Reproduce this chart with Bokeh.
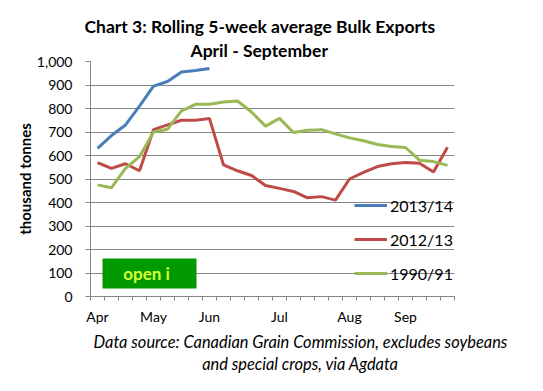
import math
from bokeh.plotting import figure
from bokeh.models import (Range1d, FixedTicker, Label, BoxAnnotation, Legend, LegendItem,
                          Title, LinearAxis)
from bokeh.embed import file_html
from bokeh.resources import INLINE

weeks = list(range(26))
month_ticks = [0, 4, 8, 13, 18, 22]
month_labels = ["Apr", "May", "Jun", "Jul", "Aug", "Sep"]
y_ticks = [0, 100, 200, 300, 400, 500, 600, 700, 800, 900, 1000]

s2013 = [630, 685, 730, 810, 895, 915, 955, 962, 970]
s2012 = [570, 545, 565, 535, 710, 730, 750, 750, 757, 560, 535, 515, 472,
         460, 447, 420, 425, 410, 500, 528, 553, 565, 570, 567, 530, 635]
s1990 = [475, 463, 545, 595, 700, 712, 790, 818, 818, 828, 832, 785, 725,
         758, 698, 707, 710, 692, 675, 663, 647, 638, 634, 580, 574, 558]

footnote = "Data source: Canadian Grain Commission, excludes soybeans\nand special crops, via Agdata"
FOOT_X = 14.5  # horizontal centre of the footnote, in week units

FONT = "Lato"
W, H = 527, 384
L, R, T, B = 90, 73, 61, 88

p = figure(width=W, height=H, output_backend="svg", toolbar_location=None,
           x_range=Range1d(-0.5, 25.5), y_range=Range1d(0, 1000),
           min_border_left=L, min_border_right=R, min_border_top=T, min_border_bottom=B)
p.outline_line_color = None
p.background_fill_color = "white"
p.border_fill_color = "white"

# axes
xa = p.xaxis[0]
xa.ticker = FixedTicker(ticks=month_ticks, minor_ticks=[w - 0.5 for w in range(27)])
xa.major_label_overrides = {t: l for t, l in zip(month_ticks, month_labels)}
xa.major_tick_line_color = None
xa.minor_tick_out = 4
xa.minor_tick_in = 0
xa.minor_tick_line_color = "#868686"
xa.axis_line_color = "#868686"
xa.major_label_text_font = FONT
xa.major_label_text_font_size = "14px"
xa.major_label_text_color = "black"
xa.major_label_standoff = 5

ya = p.yaxis[0]
ya.ticker = FixedTicker(ticks=y_ticks, minor_ticks=[])
ya.major_label_overrides = {v: f"{v:,}" for v in y_ticks}
ya.major_tick_out = 5
ya.major_tick_in = 0
ya.major_tick_line_color = "#868686"
ya.axis_line_color = "#868686"
ya.minor_tick_line_color = None
ya.major_label_text_font = FONT
ya.major_label_text_font_size = "14px"
ya.major_label_text_color = "black"
ya.major_label_standoff = 13
ya.axis_label = "thousand tonnes"
ya.axis_label_text_font = FONT
ya.axis_label_text_font_style = "bold"
ya.axis_label_text_font_size = "15px"
ya.axis_label_text_color = "black"
ya.axis_label_standoff = 0

# footnote as an extra unlined axis below the month axis
fa = LinearAxis(ticker=FixedTicker(ticks=[FOOT_X], minor_ticks=[]),
                major_label_overrides={FOOT_X: footnote},
                axis_line_color=None, major_tick_line_color=None,
                minor_tick_line_color=None, major_tick_out=0, major_tick_in=0,
                major_label_standoff=4, major_label_text_font=FONT,
                major_label_text_font_style="italic", major_label_text_font_size="16.4px",
                major_label_text_color="black", major_label_text_line_height=1.17)
p.add_layout(fa, "below")

p.xgrid.grid_line_color = None
p.ygrid.ticker = FixedTicker(ticks=y_ticks)
p.ygrid.grid_line_color = "#868686"
p.ygrid.grid_line_width = 1

r1 = p.line(weeks[:len(s2013)], s2013, line_color="#4a7ebb", line_width=3)
r2 = p.line(weeks, s2012, line_color="#be4b48", line_width=3)
r3 = p.line(weeks, s1990, line_color="#98b954", line_width=3)

legend = Legend(items=[LegendItem(label="2013/14", renderers=[r1]),
                       LegendItem(label="2012/13", renderers=[r2]),
                       LegendItem(label="1990/91", renderers=[r3])],
                location=(264, 13), orientation="vertical",
                label_text_font=FONT, label_text_font_size="16px",
                label_text_color="black",
                glyph_width=33, glyph_height=20, label_height=20, spacing=14,
                padding=0, margin=0, label_standoff=3,
                background_fill_alpha=0, border_line_color=None)
p.add_layout(legend, "center")

# green box
box = BoxAnnotation(left=12, right=106, bottom=8, top=38,
                    left_units="screen", right_units="screen",
                    bottom_units="screen", top_units="screen",
                    fill_color="#009900", fill_alpha=1, line_color=None)
p.add_layout(box)
p.add_layout(Label(x=56, y=23, x_units="screen", y_units="screen", text="open i",
                   text_font=FONT, text_font_style="bold", text_font_size="17px",
                   text_color="#d9ff33", text_align="center", text_baseline="middle"))

# titles (first added is nearest the frame)
t2 = Title(text="April  - September", align="left", offset=100,
           text_font=FONT, text_font_style="bold", text_font_size="17.5px",
           text_color="black", standoff=2)
t1 = Title(text="Chart 3: Rolling 5-week average Bulk Exports", align="left",
           offset=-6,
           text_font=FONT, text_font_style="bold", text_font_size="17.5px",
           text_color="black", standoff=0)
p.add_layout(t2, "above")
p.add_layout(t1, "above")

open("out.html", "w").write(file_html(p, INLINE))
